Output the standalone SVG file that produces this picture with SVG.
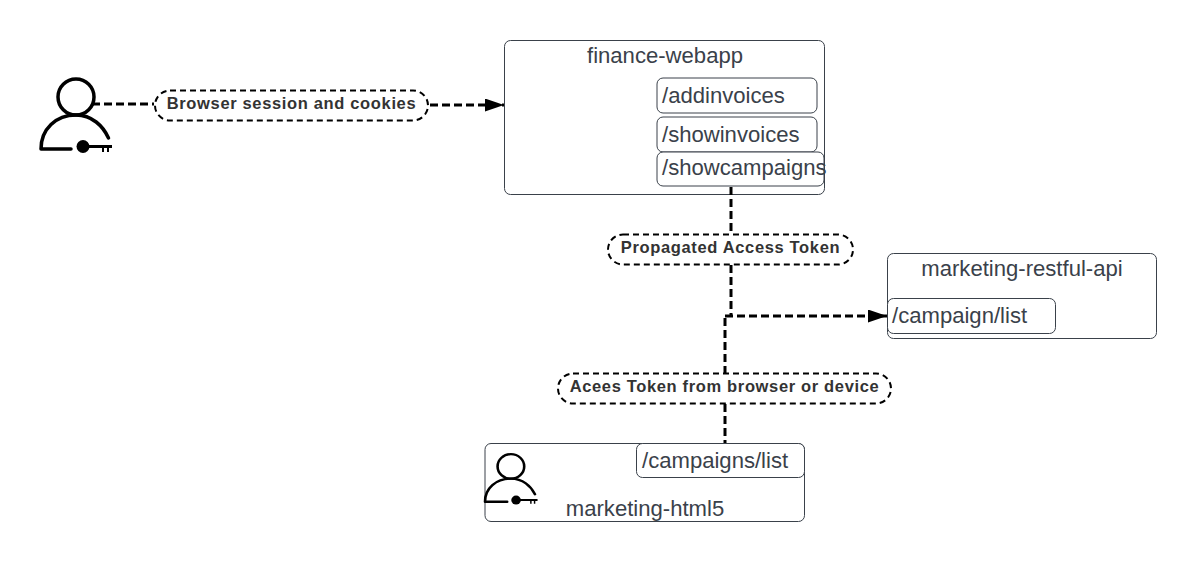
<svg xmlns="http://www.w3.org/2000/svg" width="1197" height="562" viewBox="0 0 1197 562">
<style>
text{font-family:"Liberation Sans",Arial,sans-serif;fill:#3a414a}
.box{fill:#fff;stroke:#3a414a;stroke-width:1}
.t{font-size:22.100px}
.lb{font-size:16.500px;font-weight:700;fill:#333;text-anchor:middle;letter-spacing:.65px}
.pill{fill:#fff;stroke:#000;stroke-width:2;stroke-dasharray:6 4}
.c{fill:none;stroke:#000;stroke-width:3;stroke-dasharray:8 4}
.ic{fill:none;stroke:#000;stroke-linecap:round}
</style>
<defs>
<marker id="a" markerUnits="userSpaceOnUse" markerWidth="20" markerHeight="14" refX="19" refY="6.5" orient="auto"><path d="M0 0L19 6.500L0 13Z" fill="#000"/></marker>
<g id="user">
<circle cx="76" cy="97" r="18" class="ic" stroke-width="3.500"/>
<path class="ic" stroke-width="3.500" d="M41 149C41 129 56 115 76 115C92 115 103 126 108.500 138M41 149H71"/>
<circle cx="83" cy="146.500" r="6.500" fill="#000"/>
<path d="M88 145H112V148H109V152H107V148H104V152H102V148H88Z" fill="#000"/>
</g>
</defs>
<g id="user-actor"><use href="#user"/></g>
<g id="finance-webapp">
<rect class="box" x="504.500" y="40.500" width="320" height="154" rx="6"/>
<text class="t" x="665" y="63" text-anchor="middle">finance-webapp</text>
</g>
<g id="addinvoices"><rect class="box" x="657" y="78" width="160" height="35" rx="6"/><text class="t" x="662" y="103">/addinvoices</text></g>
<g id="showinvoices"><rect class="box" x="657" y="117" width="160" height="35" rx="6"/><text class="t" x="662" y="142">/showinvoices</text></g>
<g id="showcampaigns"><rect class="box" x="657" y="152" width="167" height="34" rx="6"/><text class="t" x="662" y="175">/showcampaigns</text></g>
<g id="marketing-restful-api">
<rect class="box" x="887.500" y="253.500" width="269" height="85" rx="6"/>
<text class="t" x="1022" y="276" text-anchor="middle">marketing-restful-api</text>
</g>
<g id="campaign-list"><rect class="box" x="887.500" y="298.500" width="168" height="35" rx="6"/><text class="t" x="892" y="323">/campaign/list</text></g>
<g id="marketing-html5">
<rect class="box" x="485" y="443.500" width="319.500" height="78" rx="6"/>
<text class="t" x="645" y="516" text-anchor="middle">marketing-html5</text>
<use href="#user" transform="translate(485 455.500) scale(.74 .68) translate(-41 -81)"/>
</g>
<g id="campaigns-list"><rect class="box" x="636.500" y="443.500" width="168" height="34" rx="6"/><text class="t" x="642" y="468">/campaigns/list</text></g>
<g id="connectors">
<path class="c" d="M92 104H154"/>
<path class="c" d="M430 105H504" marker-end="url(#a)"/>
<path class="c" d="M731 187V234"/>
<path class="c" d="M731 265V316"/>
<path class="c" d="M725 316H887" marker-end="url(#a)"/>
<path class="c" d="M725 318V373"/>
<path class="c" d="M725 404V443"/>
</g>
<g id="label-browser"><rect class="pill" x="155" y="90.500" width="273" height="30" rx="15"/><text class="lb" x="291.500" y="109">Browser session and cookies</text></g>
<g id="label-propagated"><rect class="pill" x="608" y="234.500" width="245" height="30" rx="15"/><text class="lb" x="730.500" y="253">Propagated Access Token</text></g>
<g id="label-acees"><rect class="pill" x="558" y="373.500" width="333" height="30" rx="15"/><text class="lb" x="724.500" y="392">Acees Token from browser or device</text></g>
</svg>
